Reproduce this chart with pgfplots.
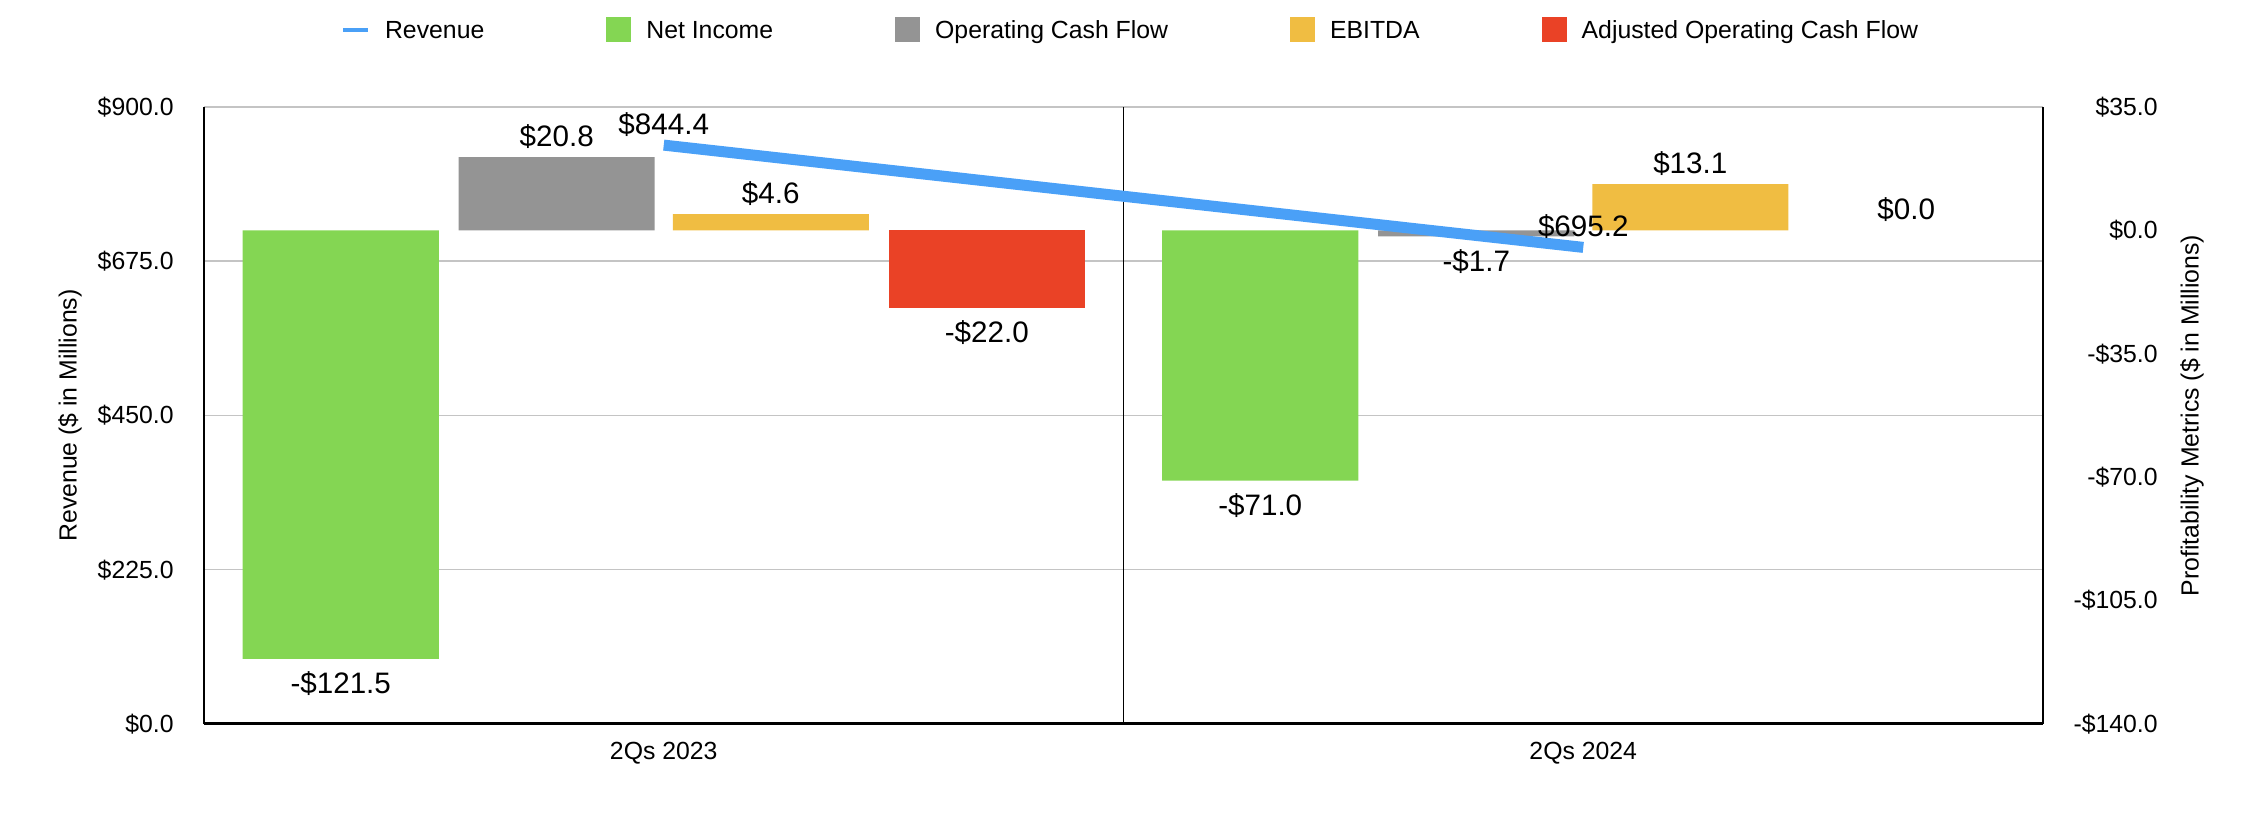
\documentclass[border=0pt]{standalone}
\usepackage{fontspec}
\setmainfont{Liberation Sans}
\usepackage{pgfplots}
\pgfplotsset{compat=1.18}

\definecolor{revblue}{RGB}{74,160,247}
\definecolor{ngreen}{RGB}{132,214,83}
\definecolor{ocfgray}{RGB}{148,148,148}
\definecolor{ebyellow}{RGB}{240,189,66}
\definecolor{adjred}{RGB}{234,66,38}
\definecolor{gridgray}{RGB}{196,196,196}

\newcommand{\tickfont}{\fontsize{12.4pt}{14pt}\selectfont}
\newcommand{\datafont}{\fontsize{14.8pt}{17pt}\selectfont}
\newcommand{\gap}{\rule{53.5pt}{0pt}}

\pgfplotsset{
  base/.style={scale only axis, width=919.5pt, height=308.5pt,
    xmin=-0.5, xmax=1.5, clip=false},
  sq/.style={legend image code/.code={\fill[#1] (0pt,-6.25pt) rectangle (12.5pt,6.25pt);}},
  bar/.style={ybar, bar width=0.2132, draw=none, fill=#1, sq=#1,
    unbounded coords=discard, y filter/.expression={y==0 ? nan : y}},
  lbl/.style={draw=none, mark=none, forget plot, nodes near coords,
    point meta=explicit symbolic},
}

\begin{document}
\begin{tikzpicture}
% left axis: revenue scale, grid, categories
\begin{axis}[base,
  ymin=0, ymax=900,
  axis x line*=bottom, axis y line*=left,
  x axis line style={-, line width=1.5pt, black},
  y axis line style={-, line width=1pt, black},
  xtick={0,1}, xticklabels={2Qs 2023,2Qs 2024},
  ytick={0,225,450,675,900},
  yticklabels={\$0.0,\$225.0,\$450.0,\$675.0,\$900.0},
  major tick length=0pt,
  ymajorgrids, grid style={draw=gridgray, line width=0.75pt},
  xticklabel style={font=\tickfont, anchor=base, inner sep=0pt, yshift=-18pt},
  yticklabel style={font=\tickfont, anchor=east, inner sep=0pt, xshift=-15pt},
  ylabel={Revenue (\$ in Millions)},
  ylabel style={font=\tickfont, at={(axis description cs:-0.0729,0.5)}, anchor=center},
]
\draw[black, line width=0.75pt] (axis cs:0.5,0) -- (axis cs:0.5,900);
\coordinate (bbsw) at (axis description cs:-0.11093,-0.17828);
\coordinate (bbne) at (axis description cs:1.10821,1.17342);
\end{axis}

% right axis: profitability metrics as bars
\begin{axis}[base,
  ymin=-140, ymax=35,
  axis x line=none, xtick=\empty,
  axis y line*=right,
  y axis line style={-, line width=1pt, black},
  ytick={-140,-105,-70,-35,0,35},
  yticklabels={-\$140.0,-\$105.0,-\$70.0,-\$35.0,\$0.0,\$35.0},
  major tick length=0pt,
  yticklabel style={font=\tickfont, anchor=east, inner sep=0pt, xshift=57.5pt},
  ylabel={Profitability Metrics (\$ in Millions)},
  ylabel style={font=\tickfont, at={(axis description cs:1.081,0.5)}, anchor=center},
  legend columns=5,
  legend cell align=left,
  legend style={at={(axis description cs:0.5033,1.1248)}, anchor=center,
    draw=none, fill=none, font=\tickfont, column sep=7.5pt, inner sep=0pt,
    nodes={inner sep=0pt, text height=8.9pt, text depth=0pt}},
  visualization depends on=rawy \as \rawy,
  every node near coord/.append style={font=\datafont, text=black, inner sep=0pt,
    anchor=base, yshift={ifthenelse(\rawy<0,-17.5,5.25)}},
]
\addlegendimage{legend image code/.code={\draw[revblue, line width=2pt] (0pt,0pt) -- (12.5pt,0pt);}}
\addlegendentry{Revenue\gap}

\addplot[bar=ngreen, bar shift=-0.3513] coordinates {(0,-121.5) (1,-71.0)};
\addlegendentry{Net Income\gap}
\addplot[bar=ocfgray, bar shift=-0.1164] coordinates {(0,20.8) (1,-1.7)};
\addlegendentry{Operating Cash Flow\gap}
\addplot[bar=ebyellow, bar shift=0.1164] coordinates {(0,4.6) (1,13.1)};
\addlegendentry{EBITDA\gap}
\addplot[bar=adjred, bar shift=0.3513] coordinates {(0,-22.0) (1,0.0)};
\addlegendentry{Adjusted Operating Cash Flow}

% value labels, at the bar centres
\addplot[lbl] coordinates {(-0.3513,-121.5) [-\$121.5] (0.6487,-71.0) [-\$71.0]};
\addplot[lbl] coordinates {(-0.1164,20.8) [\$20.8] (0.8836,-1.7) [-\$1.7]};
\addplot[lbl] coordinates {(0.1164,4.6) [\$4.6] (1.1164,13.1) [\$13.1]};
\addplot[lbl] coordinates {(0.3513,-22.0) [-\$22.0] (1.3513,0.0) [\$0.0]};
\end{axis}

% revenue line on the left scale
\begin{axis}[base, ymin=0, ymax=900, hide axis]
\addplot[revblue, line width=5.5pt, nodes near coords, point meta=explicit symbolic,
  every node near coord/.append style={font=\datafont, text=black, inner sep=0pt,
    anchor=base, yshift=5.5pt}]
  coordinates {(0,844.4) [\$844.4] (1,695.2) [\$695.2]};
\end{axis}

\pgfresetboundingbox
\useasboundingbox (bbsw) rectangle (bbne);
\end{tikzpicture}
\end{document}
